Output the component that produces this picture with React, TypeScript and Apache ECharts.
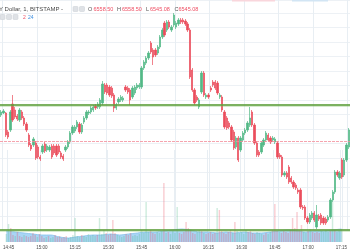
import React, { useEffect, useRef } from "react";
import * as echarts from "echarts";

const startHour = 14;
const startMinute = 44;
const candleCount = 152;
const tickLabels = ["14:45", "15:00", "15:15", "15:30", "15:45", "16:00", "16:15", "16:30", "16:45", "17:00", "17:15"];

const opens = [
  6512.5, 6513.5, 6513.5, 6504, 6505, 6518, 6515, 6512, 6510, 6514,
  6511, 6508, 6502.5, 6497.5, 6497.5, 6498.5, 6496.5, 6491.5, 6494, 6498,
  6495, 6495, 6497, 6497, 6497, 6497, 6493.5, 6492, 6495, 6496.5,
  6499, 6503.5, 6504.5, 6506.5, 6508, 6504, 6509, 6511, 6513.5, 6514,
  6515, 6517, 6516.5, 6516.5, 6518.5, 6527.5, 6527.5, 6526.5, 6526, 6522.5,
  6516, 6519, 6520, 6520, 6526.5, 6526, 6525, 6521.5, 6523.5, 6526,
  6526.5, 6526.5, 6536, 6538.5, 6541, 6548.5, 6545, 6545, 6543.5, 6546.5,
  6551.5, 6558.5, 6555, 6559, 6555, 6557.5, 6556.5, 6558, 6560, 6560,
  6559.5, 6558, 6555, 6535, 6525, 6521.5, 6516.5, 6524, 6533.5, 6521.5,
  6522.5, 6526, 6529, 6529, 6528.5, 6521.5, 6521.5, 6514, 6511, 6508.5,
  6506.5, 6504, 6496.5, 6501, 6495, 6500, 6503.5, 6505, 6507.5, 6514,
  6507.5, 6498.5, 6494, 6494, 6497.5, 6500, 6502.5, 6501, 6500, 6499,
  6498.5, 6492.5, 6491.5, 6482.5, 6483.5, 6486.5, 6481, 6479, 6477.5, 6475,
  6475, 6466.5, 6466.5, 6461, 6459, 6461, 6463.5, 6456.5, 6462, 6462.5,
  6461, 6460.5, 6460, 6461.5, 6470, 6474, 6484, 6481, 6490, 6482.5,
  6490, 6496.5
];

const closes = [
  6514, 6514.5, 6502.5, 6501.5, 6514, 6510, 6511.5, 6510.5, 6515, 6511,
  6508, 6505, 6497.5, 6495.5, 6500.5, 6491, 6491.5, 6490.5, 6497, 6494.5,
  6497, 6496.5, 6491.5, 6493.5, 6492.5, 6494, 6491.5, 6490.5, 6496.5, 6499,
  6503.5, 6506.5, 6506.5, 6509, 6504, 6507.5, 6511, 6514, 6514, 6516,
  6516.5, 6516, 6518, 6520, 6528, 6524, 6523.5, 6522.5, 6522, 6516,
  6517.5, 6520.5, 6521.5, 6521, 6525, 6524, 6520, 6526, 6526.5, 6527.5,
  6527.5, 6536, 6539, 6541, 6543.5, 6544, 6541.5, 6542.5, 6546.5, 6551.5,
  6555, 6552.5, 6559, 6556.5, 6556.5, 6562.5, 6558.5, 6560, 6559, 6559,
  6558, 6555, 6531.5, 6525, 6518.5, 6520, 6520, 6533.5, 6522.5, 6522.5,
  6521.5, 6525, 6527.5, 6526, 6523.5, 6522.5, 6515, 6506.5, 6506, 6506.5,
  6500, 6496, 6501, 6490, 6501, 6503.5, 6505, 6508.5, 6511, 6507.5,
  6498.5, 6492.5, 6492.5, 6498.5, 6500, 6503.5, 6500, 6499, 6501, 6500.5,
  6491.5, 6491.5, 6482.5, 6483.5, 6481.5, 6479, 6479, 6476.5, 6476, 6474,
  6466.5, 6466, 6461, 6459, 6462.5, 6463.5, 6460, 6462.5, 6460.5, 6458.5,
  6458.5, 6458.5, 6461.5, 6470, 6474, 6484, 6482.5, 6483.5, 6481.5, 6490,
  6497.5, 6505
];

const lows = [
  6511.5, 6513, 6501.5, 6500.5, 6504, 6509, 6510.5, 6509.5, 6509, 6510,
  6507, 6504, 6496.5, 6494.5, 6496.5, 6490, 6490.5, 6489.5, 6493, 6493.5,
  6494, 6494, 6490.5, 6492.5, 6491.5, 6493, 6490.5, 6489.5, 6494, 6495.5,
  6498, 6502.5, 6503.5, 6505.5, 6503, 6503, 6508, 6510, 6512.5, 6513,
  6514, 6515, 6515.5, 6515.5, 6517.5, 6523, 6522.5, 6521.5, 6521, 6514,
  6515, 6518, 6519, 6519, 6524, 6523, 6517.5, 6520.5, 6522.5, 6525,
  6525.5, 6525.5, 6535, 6537.5, 6540, 6543, 6537.5, 6541.5, 6542.5, 6545.5,
  6550.5, 6551.5, 6554, 6555.5, 6554, 6556.5, 6555.5, 6557, 6558, 6558,
  6557, 6554, 6530.5, 6524, 6517.5, 6519, 6515.5, 6523, 6521.5, 6520.5,
  6520.5, 6524, 6526.5, 6525, 6522.5, 6520.5, 6514, 6505.5, 6505, 6505.5,
  6499, 6495, 6495.5, 6489, 6494, 6499, 6502.5, 6504, 6506.5, 6506.5,
  6497.5, 6491.5, 6491.5, 6493, 6496.5, 6499, 6499, 6498, 6499, 6498,
  6490.5, 6490.5, 6481.5, 6481.5, 6480.5, 6478, 6478, 6475.5, 6475, 6473,
  6465.5, 6465, 6460, 6458, 6458, 6460, 6459, 6455.5, 6459.5, 6457.5,
  6457.5, 6457.5, 6459, 6460.5, 6469, 6473, 6481.5, 6480, 6480.5, 6481.5,
  6489, 6495.5
];

const highs = [
  6515, 6515.5, 6514, 6505, 6515, 6522.5, 6516.5, 6513, 6516, 6515,
  6512, 6509, 6503.5, 6498.5, 6501.5, 6499.5, 6497.5, 6492.5, 6498, 6499,
  6498, 6497.5, 6498, 6498, 6498, 6498, 6494.5, 6493, 6497.5, 6500,
  6504.5, 6507.5, 6507.5, 6510, 6509, 6508.5, 6512, 6515, 6515, 6517,
  6517.5, 6518, 6519, 6521, 6529.5, 6528.5, 6528.5, 6527.5, 6527, 6523.5,
  6518.5, 6521.5, 6522.5, 6522, 6527.5, 6527, 6526, 6527, 6527.5, 6528.5,
  6528.5, 6537, 6540, 6542, 6544.5, 6549.5, 6546, 6546, 6547.5, 6552.5,
  6556, 6559.5, 6560, 6560, 6557.5, 6563.5, 6559.5, 6561, 6561, 6561,
  6560.5, 6559, 6556, 6536, 6526, 6522.5, 6521, 6534.5, 6534.5, 6523.5,
  6523.5, 6527, 6530, 6530, 6529.5, 6523.5, 6522.5, 6515, 6512, 6509.5,
  6507.5, 6505, 6502, 6502, 6502, 6504.5, 6506, 6509.5, 6516.5, 6515,
  6508.5, 6499.5, 6495, 6499.5, 6501, 6504.5, 6503.5, 6502, 6502, 6501.5,
  6499.5, 6493.5, 6492.5, 6484.5, 6484.5, 6487.5, 6482, 6480, 6478.5, 6476,
  6476, 6467.5, 6467.5, 6462, 6463.5, 6464.5, 6464.5, 6467.5, 6463, 6463.5,
  6462, 6461.5, 6462.5, 6471, 6475, 6485, 6485, 6484.5, 6491, 6491,
  6498.5, 6506
];

const volumes = [
  8, 18, 14, 7, 6, 10, 6, 5, 7, 6,
  5, 6, 9, 7, 5, 8, 6, 4, 5, 6,
  4, 5, 7, 5, 6, 4, 5, 6, 4, 5,
  7, 24, 6, 5, 7, 6, 5, 8, 6, 7,
  6, 7, 24, 8, 12, 9, 7, 8, 22, 9,
  7, 6, 5, 6, 8, 7, 9, 6, 7, 6,
  8, 12, 9, 40, 10, 12, 9, 8, 10, 9,
  11, 59, 9, 10, 8, 11, 9, 35, 9, 8,
  10, 20, 14, 12, 9, 8, 10, 12, 11, 9,
  8, 9, 10, 8, 9, 34, 32, 11, 9, 8,
  10, 12, 9, 20, 11, 9, 10, 8, 12, 10,
  11, 9, 8, 10, 9, 8, 7, 9, 8, 10,
  12, 38, 11, 10, 9, 11, 10, 9, 12, 24,
  14, 30, 12, 17, 10, 9, 11, 13, 10, 9,
  10, 9, 11, 10, 12, 10, 11, 40, 12, 10,
  11, 13
];

const volumeAvgIndex = [0, 4, 8, 12, 16, 20, 24, 28, 31, 35, 39, 43, 47, 51, 55, 59, 63, 67, 71, 75, 79, 83, 87, 91, 95, 99, 103, 107, 111, 115, 119, 123, 127, 131, 135, 139, 143, 147, 151];
const volumeAvg = [11, 10, 9, 8, 7, 7, 5, 4, 5, 6, 7, 7, 8, 7, 8, 9, 10, 10, 11, 12, 13, 12, 10, 10, 9, 10, 9, 10, 9, 9, 10, 11, 12, 11, 10, 11, 11, 12, 13];

const supportLevels = [6517.5, 6455];
const prevCloseLevel = 6499.25;

const UP = "#53b987";
const DOWN = "#eb4d5c";

export default function App() {
  const ref = useRef<HTMLDivElement>(null);

  useEffect(() => {
    const chart = echarts.init(ref.current as HTMLDivElement, null, { renderer: "svg" });
    const categories: string[] = [];
    for (let i = 0; i < candleCount; i++) {
      const m = startHour * 60 + startMinute + i;
      const hh = Math.floor(m / 60);
      const mm = m % 60;
      categories.push(`${hh}:${mm < 10 ? "0" + mm : mm}`);
    }
    const isTick = (idx: number) => tickLabels.indexOf(categories[idx]) >= 0;
    const candles = opens.map((o, i) => [o, closes[i], lows[i], highs[i]]);
    const volData = volumes.map((v, i) => ({
      value: v,
      itemStyle: { color: closes[i] >= opens[i] ? "rgba(83,185,135,0.28)" : "rgba(235,77,92,0.28)" },
    }));
    const avgData = volumeAvgIndex.map((x, i) => [x, volumeAvg[i]]);

    const font = "Liberation Sans";
    const hdrY = 9;
    const txt = (x: number, y: number, text: string, fill: string, size = 5.5) => ({
      type: "text",
      x,
      y,
      z: 100,
      style: { text, fill, fontSize: size, fontFamily: font, verticalAlign: "middle" },
    });
    const box = (x: number, y: number) => ({
      type: "rect",
      z: 100,
      shape: { x, y, width: 5, height: 5, r: 0.8 },
      style: { fill: "#dfe2e6", stroke: "#c9ced4", lineWidth: 0.5 },
    });

    chart.setOption({
      animation: false,
      grid: [
        { left: 0, right: 0, top: 0, height: 230.5 },
        { left: 0, right: 0, top: 150, height: 92 },
      ],
      xAxis: [
        {
          type: "category",
          gridIndex: 0,
          data: categories,
          axisLine: { show: false },
          axisTick: { show: false },
          axisLabel: { show: false },
          splitLine: { show: true, interval: (i: number) => isTick(i), lineStyle: { color: "#e8eef3", width: 1 } },
        },
        {
          type: "category",
          gridIndex: 1,
          data: categories,
          axisLine: { show: false },
          axisTick: { show: false },
          axisLabel: {
            show: true,
            interval: (i: number) => isTick(i),
            fontSize: 4.5,
            color: "#4a4a4a",
            margin: 3,
            fontFamily: font,
          },
          splitLine: { show: true, interval: (i: number) => isTick(i), lineStyle: { color: "#e8eef3", width: 1 } },
        },
      ],
      yAxis: [
        {
          type: "value",
          gridIndex: 0,
          min: 6454.75,
          max: 6570,
          interval: 7.25,
          axisLine: { show: false },
          axisTick: { show: false },
          axisLabel: { show: false },
          splitLine: { show: true, lineStyle: { color: "#edf1f5", width: 1 } },
        },
        { type: "value", gridIndex: 1, min: 0, max: 92, show: false, splitLine: { show: false } },
      ],
      series: [
        {
          type: "line",
          xAxisIndex: 1,
          yAxisIndex: 1,
          data: avgData,
          smooth: 0.3,
          symbol: "none",
          lineStyle: { color: "#86c1ec", width: 0.8 },
          areaStyle: { color: "#a9d5f5", opacity: 1 },
          z: 1,
        },
        {
          type: "bar",
          xAxisIndex: 1,
          yAxisIndex: 1,
          data: volData,
          barWidth: "65%",
          z: 2,
        },
        {
          type: "candlestick",
          xAxisIndex: 0,
          yAxisIndex: 0,
          data: candles,
          barWidth: "80%",
          clip: false,
          itemStyle: { color: UP, color0: DOWN, borderColor: UP, borderColor0: DOWN, borderWidth: 0.7 },
          markLine: {
            silent: true,
            symbol: ["none", "none"],
            label: { show: false },
            data: [
              { yAxis: prevCloseLevel, lineStyle: { color: "#f28d9a", width: 1, opacity: 0.8, type: [3, 1] } },
              { yAxis: supportLevels[0], lineStyle: { color: "rgba(120,185,90,0.3)", width: 3.2, type: "solid" } },
              { yAxis: supportLevels[0], lineStyle: { color: "#5e9e3c", width: 1.5, type: "solid" } },
              { yAxis: supportLevels[1], lineStyle: { color: "rgba(120,185,90,0.3)", width: 3.2, type: "solid" } },
              { yAxis: supportLevels[1], lineStyle: { color: "#5e9e3c", width: 1.5, type: "solid" } },
            ],
          },
          z: 3,
        },
      ],
      graphic: {
        elements: [
          { type: "rect", z: 99, shape: { x: 232, y: 0, width: 43, height: 1.5 }, style: { fill: "#f9d6dc" } },
          { type: "rect", z: 99, shape: { x: 292, y: 0, width: 36, height: 1.5 }, style: { fill: "#d2e5f4" } },
          txt(-1, hdrY, "Y Dollar, 1, BITSTAMP -", "#4b4b4b", 6),
          box(73, 6.5),
          box(79.5, 6.5),
          txt(88, hdrY, "O", "#555555"),
          txt(93.5, hdrY, "6558.50", "#ee4e63"),
          txt(117, hdrY, "H", "#555555"),
          txt(122, hdrY, "6558.50", "#ee4e63"),
          txt(146, hdrY, "L", "#555555"),
          txt(150, hdrY, "6545.08", "#ee4e63"),
          txt(174.5, hdrY, "C", "#555555"),
          txt(178.5, hdrY, "6545.08", "#ee4e63"),
          box(0, 14.5),
          box(6.5, 14.5),
          box(13, 14.5),
          txt(23, 17, "2", "#ee4e63", 5),
          txt(28, 17, "24", "#3d8fe0", 5),
        ],
      },
    });
    return () => chart.dispose();
  }, []);

  return <div ref={ref} style={{ position: "fixed", left: 0, top: 0, width: 350, height: 250 }} />;
}
